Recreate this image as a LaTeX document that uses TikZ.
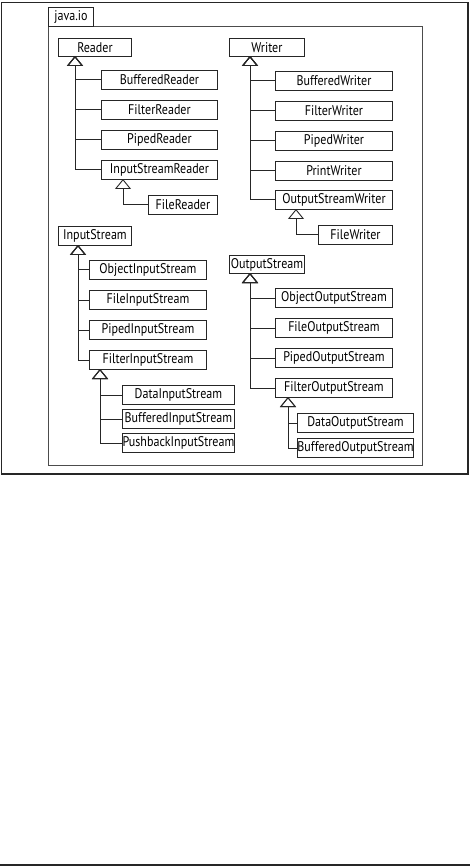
\documentclass[tikz,border=0pt]{standalone}
\usepackage{fontspec}
\setmainfont[FakeStretch=0.86]{PT Sans}
\usetikzlibrary{arrows.meta}

\begin{document}
\begin{tikzpicture}[x=1pt, y=-1pt, line width=0.9pt,
    cls/.style={draw=black!85, anchor=north west, inner sep=0pt, minimum height=19pt, font=\fontsize{14}{16}\selectfont},
    isa/.style={draw=black!85, -{Triangle[open, length=10pt, width=16pt]}}]
  \useasboundingbox (0,0) rectangle (470,866);
  % page rules
  \draw[line width=1.2pt, black!85] (1.5,2.5) rectangle (468,474);
  \draw[line width=1.2pt, black!85] (0,865) -- (470,865);
  % package java.io
  \draw[black!70] (48,26) rectangle (422,465);
  \node[cls, minimum width=45pt] (pkg) at (48,7) {java.io};

  % readers
  \node[cls, minimum width=73pt, minimum height=18pt] (Reader) at (58,38) {Reader};
  \coordinate (rdtip) at (75,56);
  \foreach \nm/\y in {BufferedReader/70, FilterReader/100, PipedReader/130, InputStreamReader/160}
    \node[cls, minimum width=116pt] (\nm) at (101,\y) {\nm};
  \node[cls, minimum width=69pt] (FileReader) at (148,195) {FileReader};
  \coordinate (isrtip) at (123,179);
  \foreach \nm in {BufferedReader, FilterReader, PipedReader, InputStreamReader}
    \draw[isa] (\nm.west) -| (rdtip);
  \draw[isa] (FileReader.west) -| (isrtip);

  % writers
  \node[cls, minimum width=75pt, minimum height=18pt] (Writer) at (229,38) {Writer};
  \coordinate (wrtip) at (250,56);
  \foreach \nm/\y in {BufferedWriter/71, FilterWriter/101, PipedWriter/131, PrintWriter/161, OutputStreamWriter/190}
    \node[cls, minimum width=117pt] (\nm) at (275,\y) {\nm};
  \node[cls, minimum width=74pt] (FileWriter) at (318,225) {FileWriter};
  \coordinate (oswtip) at (296,209);
  \foreach \nm in {BufferedWriter, FilterWriter, PipedWriter, PrintWriter, OutputStreamWriter}
    \draw[isa] (\nm.west) -| (wrtip);
  \draw[isa] (FileWriter.west) -| (oswtip);

  % input streams
  \node[cls, minimum width=73pt] (InputStream) at (58,226) {InputStream};
  \coordinate (istip) at (78,245);
  \foreach \nm/\y in {ObjectInputStream/260, FileInputStream/290, PipedInputStream/320, FilterInputStream/350}
    \node[cls, minimum width=117pt] (\nm) at (89,\y) {\nm};
  \coordinate (fistip) at (100,369);
  \foreach \nm/\y in {DataInputStream/385, BufferedInputStream/409, PushbackInputStream/433}
    \node[cls, minimum width=112pt] (\nm) at (122,\y) {\nm};
  \foreach \nm in {ObjectInputStream, FileInputStream, PipedInputStream, FilterInputStream}
    \draw[isa] (\nm.west) -| (istip);
  \foreach \nm in {DataInputStream, BufferedInputStream, PushbackInputStream}
    \draw[isa] (\nm.west) -| (fistip);

  % output streams
  \node[cls, minimum width=75pt, minimum height=18pt] (OutputStream) at (229,255) {OutputStream};
  \coordinate (ostip) at (250,273);
  \foreach \nm/\y in {ObjectOutputStream/288, FileOutputStream/318, PipedOutputStream/348, FilterOutputStream/378}
    \node[cls, minimum width=117pt] (\nm) at (275,\y) {\nm};
  \coordinate (fostip) at (288,397);
  \foreach \nm/\y in {DataOutputStream/413, BufferedOutputStream/438}
    \node[cls, minimum width=116pt] (\nm) at (297,\y) {\nm};
  \foreach \nm in {ObjectOutputStream, FileOutputStream, PipedOutputStream, FilterOutputStream}
    \draw[isa] (\nm.west) -| (ostip);
  \foreach \nm in {DataOutputStream, BufferedOutputStream}
    \draw[isa] (\nm.west) -| (fostip);
\end{tikzpicture}
\end{document}
